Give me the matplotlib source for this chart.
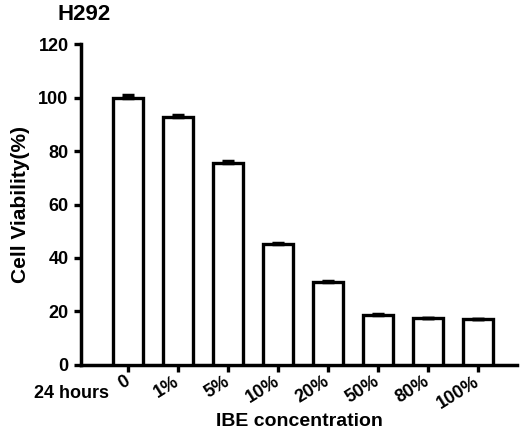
import numpy as np
import matplotlib as mpl
mpl.use("Agg")
import matplotlib.pyplot as plt
from matplotlib.transforms import ScaledTranslation

# data
conc_labels = ['0', '1%', '5%', '10%', '20%', '50%', '80%', '100%']
viability = [99.9, 92.8, 75.6, 45.1, 31.0, 18.7, 17.5, 17.1]
viability_err = [1.0, 0.7, 0.5, 0.5, 0.3, 0.3, 0.2, 0.2]

mpl.rcParams.update({
    "font.family": ["Liberation Sans", "DejaVu Sans"],
    "font.weight": "bold",
    "axes.labelweight": "bold",
})

fig = plt.figure(figsize=(5.2, 4.37), dpi=100)
ax = fig.add_axes([0.156, 0.165, 0.838, 0.734])

x = np.arange(len(conc_labels))
# GraphPad style: error bars only upwards
err = [np.zeros(len(viability_err)), viability_err]
ax.bar(x, viability, width=0.6, color='white', edgecolor='black', linewidth=2.4,
       yerr=err, error_kw=dict(ecolor='black', elinewidth=2, capsize=4.5, capthick=2.5),
       zorder=3)

ax.set_xlim(-0.94, 7.78)
ax.set_ylim(0, 120)
ax.set_yticks(np.arange(0, 121, 20))
ax.set_xticks(x)
ax.set_xticklabels(conc_labels, rotation=32, ha='right', va='center',
                   rotation_mode='anchor', fontsize=13, fontweight='bold')
shift = ScaledTranslation(14 / 100, 0, fig.dpi_scale_trans)
for lbl in ax.get_xticklabels():
    lbl.set_transform(lbl.get_transform() + shift)
for lbl in ax.get_yticklabels():
    lbl.set_fontsize(13)
    lbl.set_fontweight('bold')

for side in ['top', 'right']:
    ax.spines[side].set_visible(False)
for side in ['left', 'bottom']:
    ax.spines[side].set_linewidth(2.5)
ax.tick_params(axis='both', direction='out', length=5, width=2.4, pad=4)
ax.tick_params(axis='x', pad=6)

ax.set_ylabel('Cell Viability(%)', fontsize=15, fontweight='bold', va='center')
ax.yaxis.set_label_coords(-0.138, 0.5)
ax.set_xlabel('IBE concentration', fontsize=14, fontweight='bold', va='center')
ax.xaxis.set_label_coords(0.5, -0.178)
fig.text(0.162, 0.966, 'H292', fontsize=16, fontweight='bold', ha='center', va='center')
fig.text(0.138, 0.1, '24 hours', fontsize=13, fontweight='bold', ha='center', va='center')

plt.savefig('out.png', dpi=100)
